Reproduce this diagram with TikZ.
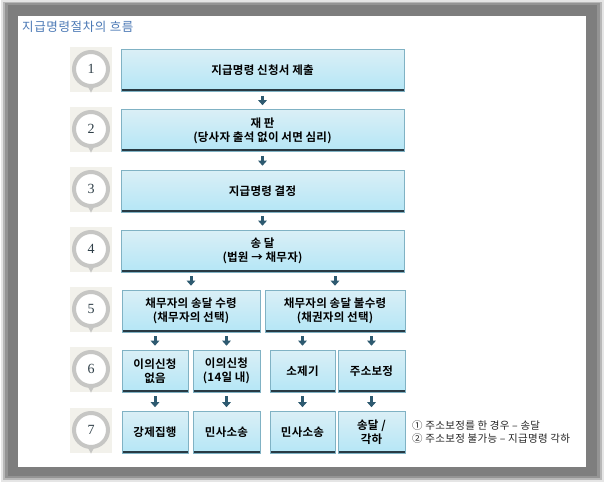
\documentclass[tikz,border=0pt]{standalone}
\usepackage{fontspec}
\setmainfont{Noto Sans CJK KR}[BoldFont={Noto Sans CJK KR Bold}]
\newfontfamily\numfont{Liberation Serif}
\newfontfamily\titlefont{Noto Sans CJK KR}[LetterSpace=5]
\newfontfamily\boxfont{Noto Sans CJK KR Bold}[LetterSpace=2]
\newfontfamily\notefont{Noto Sans CJK KR}[LetterSpace=3]
\usetikzlibrary{arrows.meta}
\definecolor{titleblue}{HTML}{4A78B5}
\definecolor{boxtop}{HTML}{DAEFF6}
\definecolor{boxbot}{HTML}{B4E6F6}
\definecolor{boxline}{HTML}{80B2C4}
\definecolor{bottomline}{HTML}{283A44}
\definecolor{arrowcol}{HTML}{2E5A70}
\definecolor{badgebg}{HTML}{F2F1EB}
\definecolor{ringgray}{HTML}{C6C6C4}
\definecolor{numcol}{HTML}{2F3F48}
\definecolor{framegray}{HTML}{7E7E7E}
\tikzset{
  stepbox/.style={rectangle, inner sep=0pt, minimum height=42pt, top color=boxtop, bottom color=boxbot,
    draw=boxline, line width=0.6pt, align=center, font=\boxfont\fontsize{11.5}{14}\selectfont, text=black,
    path picture={\draw[line width=4.5pt, bottomline] (path picture bounding box.south west) -- (path picture bounding box.south east);}},
  badge/.style={circle, minimum size=34pt, inner sep=0pt, draw=ringgray, line width=4pt, fill=white,
    font=\numfont\fontsize{14}{14}\selectfont, text=numcol},
  arr/.style={line width=3pt, arrowcol, -{Triangle[width=8.5pt,length=5pt]}, shorten <=4pt, shorten >=4pt}
}
\begin{document}
\begin{tikzpicture}[x=1pt,y=-1pt]
\useasboundingbox (0,0) rectangle (606,485);
% frame with shadow
\fill[black!10] (1,0) rectangle (604,482);
\fill[black!28] (3,2) rectangle (602,480);
\fill[black!42] (5,3) rectangle (600,478);
\fill[framegray] (8,5) rectangle (597,476);
\fill[white] (18,16) rectangle (586,467);
% title
\node[anchor=west, text=titleblue, font=\titlefont\fontsize{12.5}{13}\selectfont, inner sep=0pt] (title) at (22,27) {지급명령절차의 흐름};
% badges
\foreach \n/\y in {1/69,2/129,3/189,4/249,5/309,6/369,7/430} {
  \fill[badgebg] (70,\y-22) rectangle (112,\y+23);
  \fill[ringgray] (87.5,\y+17) -- (94.5,\y+17) -- (91,\y+23.5) -- cycle;
  \node[badge] (s\n) at (91,\y) {\n};
}
% boxes
\node[stepbox, minimum width=283pt] (b1) at (262.5,70.5) {지급명령 신청서 제출};
\node[stepbox, minimum width=283pt] (b2) at (262.5,130.5) {재 판\\(당사자 출석 없이 서면 심리)};
\node[stepbox, minimum width=283pt] (b3) at (262.5,191) {지급명령 결정};
\node[stepbox, minimum width=283pt] (b4) at (262.5,251) {송 달\\(법원 → 채무자)};
\node[stepbox, minimum width=138pt] (b5a) at (191,311) {채무자의 송달 수령\\(채무자의 선택)};
\node[stepbox, minimum width=140pt] (b5b) at (335,311) {채무자의 송달 불수령\\(채권자의 선택)};
\node[stepbox, minimum width=66pt] (b6a) at (155,371) {이의신청\\없음};
\node[stepbox, minimum width=67pt] (b6b) at (226.5,371) {이의신청\\(14일 내)};
\node[stepbox, minimum width=65pt] (b6c) at (302.5,371) {소제기};
\node[stepbox, minimum width=67pt] (b6d) at (371.5,371) {주소보정};
\node[stepbox, minimum width=66pt] (b7a) at (155,432.5) {강제집행};
\node[stepbox, minimum width=67pt] (b7b) at (226.5,432.5) {민사소송};
\node[stepbox, minimum width=65pt] (b7c) at (302.5,432.5) {민사소송};
\node[stepbox, minimum width=67pt] (b7d) at (371.5,432.5) {송달 /\\각하};
% arrows
\draw[arr] (b1) -- (b2);
\draw[arr] (b2) -- (b3);
\draw[arr] (b3) -- (b4);
\draw[arr] (b4.south -| b5a.north) -- (b5a.north);
\draw[arr] (b4.south -| b5b.north) -- (b5b.north);
\draw[arr] (b5a.south -| b6a.north) -- (b6a.north);
\draw[arr] (b5a.south -| b6b.north) -- (b6b.north);
\draw[arr] (b5b.south -| b6c.north) -- (b6c.north);
\draw[arr] (b5b.south -| b6d.north) -- (b6d.north);
\draw[arr] (b6a) -- (b7a);
\draw[arr] (b6b) -- (b7b);
\draw[arr] (b6c) -- (b7c);
\draw[arr] (b6d) -- (b7d);
% note
\node[anchor=west, align=left, inner sep=0pt, text=black!85, font=\notefont\fontsize{10.5}{13}\selectfont] (note) at (412,432.5) {① 주소보정를 한 경우 – 송달\\② 주소보정 불가능 – 지급명령 각하};
\end{tikzpicture}
\end{document}
